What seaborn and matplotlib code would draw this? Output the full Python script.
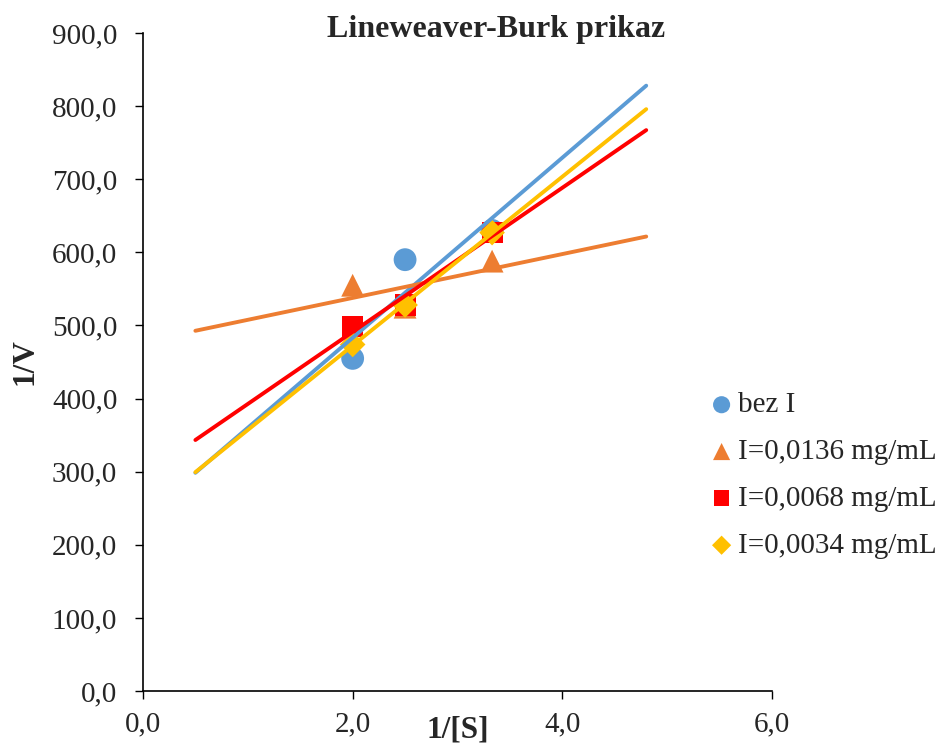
import numpy as np
import pandas as pd
import matplotlib
matplotlib.use("Agg")
import matplotlib.pyplot as plt
from matplotlib.ticker import FuncFormatter, MultipleLocator
import seaborn as sns

# ================= DATA =================
inv_s = [2.0, 2.5, 3.33]
series_names = ["bez I", "I=0,0136 mg/mL", "I=0,0068 mg/mL", "I=0,0034 mg/mL"]
v_bez = [455, 590, 630]
v_0136 = [555, 525, 588]
v_0068 = [499, 528, 627]
v_0034 = [474, 528, 627]
colors = ["#5B9BD5", "#ED7D31", "#FF0000", "#FFC000"]
markers = ["o", "^", "s", "D"]
trend_x = [0.5, 4.8]

sns.set_style("white")
plt.rcParams["font.family"] = ["Liberation Serif", "DejaVu Serif"]
FS = 21

rows = []
for name, vals in zip(series_names, [v_bez, v_0136, v_0068, v_0034]):
    for x, y in zip(inv_s, vals):
        rows.append({"x": x, "y": y, "serija": name})
df = pd.DataFrame(rows)

# trend lines (linear fit, extended forward/backward)
trend_rows = []
for name, vals in zip(series_names, [v_bez, v_0136, v_0068, v_0034]):
    k, n = np.polyfit(inv_s, vals, 1)
    for x in trend_x:
        trend_rows.append({"x": x, "y": k * x + n, "serija": name})
tdf = pd.DataFrame(trend_rows)

fig = plt.figure(figsize=(9.43, 7.44), dpi=100)
ax = fig.add_axes([0.1516, 0.0712, 0.8187 - 0.1516, 0.9556 - 0.0712])

pal = dict(zip(series_names, colors))
mk = dict(zip(series_names, markers))
sizes = {"bez I": 270, "I=0,0136 mg/mL": 270, "I=0,0068 mg/mL": 230, "I=0,0034 mg/mL": 170}

for name in series_names:
    sub = df[df["serija"] == name]
    sns.scatterplot(data=sub, x="x", y="y", color=pal[name], marker=mk[name],
                    s=sizes[name], edgecolor="none", ax=ax, label=name, zorder=3)

sns.lineplot(data=tdf, x="x", y="y", hue="serija", palette=pal, hue_order=series_names,
             linewidth=2.8, ax=ax, legend=False, zorder=4)

ax.set_xlim(0, 6)
ax.set_ylim(0, 900)
ax.xaxis.set_major_locator(MultipleLocator(2))
ax.yaxis.set_major_locator(MultipleLocator(100))
fmt = FuncFormatter(lambda v, p: f"{v:.1f}".replace(".", ","))
ax.xaxis.set_major_formatter(fmt)
ax.yaxis.set_major_formatter(fmt)
ax.tick_params(axis="both", labelsize=FS, direction="out", length=6, width=1,
               color="black", bottom=True, left=True)
ax.tick_params(axis="x", pad=8.5)
ax.tick_params(axis="y", pad=12.5)

sns.despine(ax=ax)
for sp in ["left", "bottom"]:
    ax.spines[sp].set_color("black")
    ax.spines[sp].set_linewidth(1.2)

fig.text(496 / 943, 1 - 30 / 744, "Lineweaver-Burk prikaz", fontsize=23,
         fontweight="bold", ha="center", va="center")
ax.set_xlabel("1/[S]", fontsize=22.5, fontweight="bold")
ax.set_ylabel("1/V", fontsize=22.5, fontweight="bold")
ax.xaxis.set_label_coords(0.501, -0.037)
ax.yaxis.set_label_coords(-0.165, 0.5)

handles, labels = ax.get_legend_handles_labels()
ax.legend(handles, labels, loc="center left", bbox_to_anchor=(0.725, 0.361),
          bbox_transform=fig.transFigure, frameon=False, fontsize=FS,
          handlelength=0.8, handletextpad=0.15, labelspacing=0.7, markerscale=0.75)

fig.savefig("out.png", dpi=100)
